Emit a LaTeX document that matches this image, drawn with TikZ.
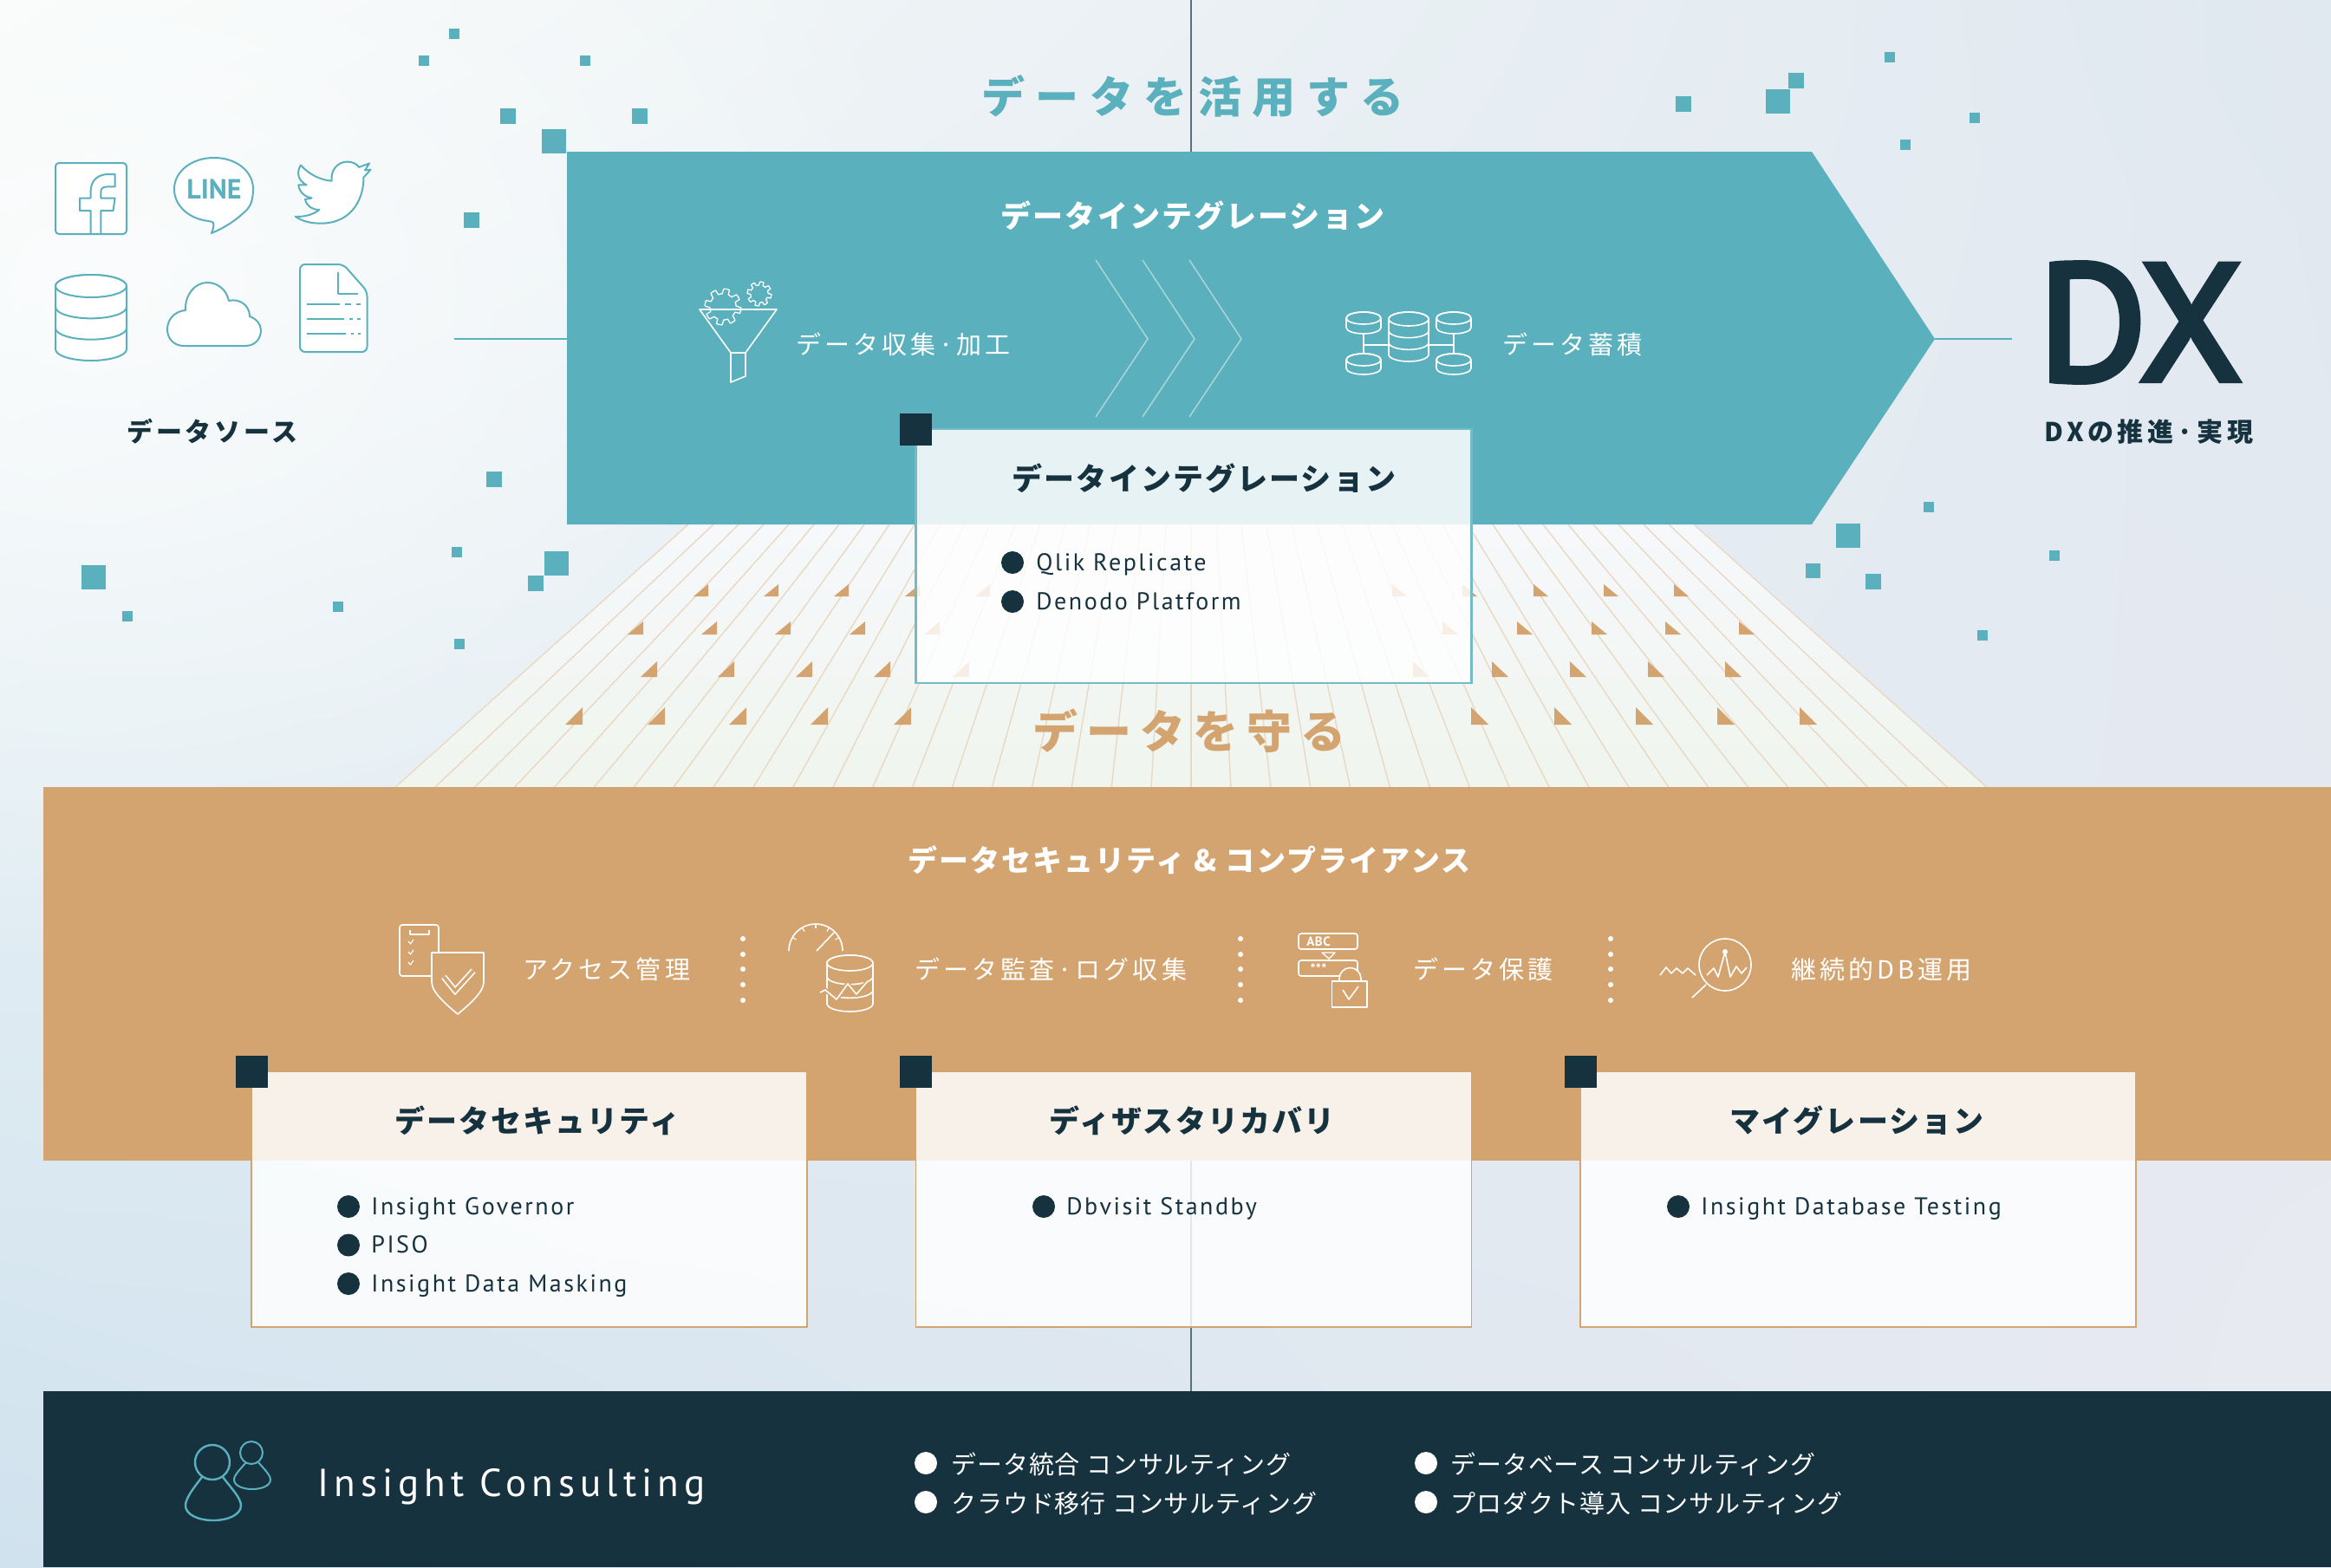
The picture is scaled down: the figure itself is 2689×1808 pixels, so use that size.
\documentclass[tikz,border=0pt]{standalone}
\usepackage{fontspec}
\usetikzlibrary{positioning,shadings,fadings}
\setmainfont{Noto Sans CJK JP}
\newfontfamily\latinfont{PT Sans}
\newcommand{\jpset}[2]{\fontsize{#1}{#1}\selectfont\addfontfeatures{LetterSpace=#2}}
\newcommand{\latset}[2]{\latinfont\fontsize{#1}{#1}\selectfont\addfontfeatures{LetterSpace=#2}}
\definecolor{tealmain}{HTML}{5AB0BC}
\definecolor{tanmain}{HTML}{D3A470}
\definecolor{navy}{HTML}{16323F}
\definecolor{tanpale}{HTML}{E9D8C3}
\definecolor{headtan}{HTML}{F8F1EA}
\definecolor{headteal}{HTML}{E7F2F5}
\definecolor{bgul}{HTML}{F6FAF9}
\definecolor{bgur}{HTML}{E0E8F0}
\definecolor{bgll}{HTML}{D0E2EE}
\definecolor{bglr}{HTML}{E9EAF1}
\definecolor{planetop}{HTML}{F6F8FB}
\definecolor{planebot}{HTML}{F0F5EE}
\tikzfading[name=glowfade,inner color=transparent!30,outer color=transparent!100]
\tikzset{
  srcline/.style={draw=tealmain,line width=2pt,fill=white,line join=round},
  whiteline/.style={draw=white,line width=1.6pt,line join=round},
  tanicon/.style={draw=white,line width=1.6pt,fill=tanmain,line join=round},
  teallink/.style={draw=tealmain,line width=2pt},
  peopleline/.style={draw=tealmain,line width=2.4pt},
  pixel/.style={fill=tealmain},
  titletext/.style={inner sep=0pt,font=\jpset{50}{25}\bfseries},
  headtext/.style={inner sep=0pt,text=white,font=\jpset{35}{6}\bfseries},
  cardtitle/.style={inner sep=0pt,text=navy,font=\jpset{35}{6}\bfseries},
  darktext/.style={inner sep=0pt,text=navy,font=\jpset{30}{12}\bfseries},
  icontext/.style={inner sep=0pt,anchor=west,text=white,yshift=-1.5pt,font=\jpset{29}{14}},
  itemtext/.style={inner sep=0pt,anchor=west,text=navy,text height=20pt,text depth=6pt,yshift=-2pt,font=\latset{28}{9}},
  consulttext/.style={inner sep=0pt,anchor=west,text=white,yshift=-1pt,font=\jpset{29}{3}},
  bulletdot/.style={circle,fill=navy,minimum size=26pt,inner sep=0pt},
  whitedot/.style={circle,fill=white,minimum size=26pt,inner sep=0pt},
  cardhead/.style={inner sep=0pt,outer sep=0pt,minimum width=641pt,minimum height=103pt,fill=headtan},
  cardbody/.style={inner sep=0pt,outer sep=0pt,minimum width=641pt,minimum height=192pt,fill=white,fill opacity=.83},
  cornermark/.style={inner sep=0pt,minimum size=37pt,fill=navy},
}
\newcommand{\cylicon}[7]{% style, centre x, top, half width, arc height, bottom, bands
  \draw[#1] ({#2-#4},{#3+#5}) -- ({#2-#4},{#6-#5})
    arc[start angle=180,end angle=360,x radius=#4pt,y radius=#5pt]
    -- ({#2+#4},{#3+#5}) arc[start angle=0,end angle=180,x radius=#4pt,y radius=#5pt] -- cycle;
  \draw[#1] (#2,{#3+#5}) ellipse[x radius=#4pt,y radius=#5pt];
  \ifnum#7>0
  \foreach \k in {1,...,#7}
    \draw[#1,fill=none] ({#2-#4},{#3+#5+\k*(#6-#3-2*#5)/(#7+1)})
      arc[start angle=180,end angle=360,x radius=#4pt,y radius=#5pt];
  \fi
}
\newcommand{\gearicon}[4]{% centre x, centre y, radius, teeth
  \draw[whiteline,line width=1.3pt] plot[samples=121,domain=0:360]
    ({#1+#3*(1+.16*sign(sin(#4*\x)))*cos(\x)},{#2+#3*(1+.16*sign(sin(#4*\x)))*sin(\x)}) -- cycle;
}
\begin{document}
\begin{tikzpicture}[x=1pt,y=-1pt]
\useasboundingbox (0,0) rectangle (2689,1808);
\shade[shading=bilinear interpolation,upper left=bgul,upper right=bgur,lower left=bgll,lower right=bglr]
  (0,0) rectangle (2689,1808);
\fill[white,path fading=glowfade] (120,330) ellipse[x radius=1000pt,y radius=800pt];

% scattered pixels
\foreach \px/\py/\ps in {518/33/12,483/64/12,669/64/12,577/125/18,729/125/18,625/149/28,535/245/18,
  561/544/18,94/652/28,141/705/12,384/694/12,521/631/12,524/737/12,628/636/28,609/664/18,
  1933/111/18,2037/103/28,2063/84/18,2174/60/12,2192/161/12,2272/130/12,
  2219/579/12,2118/604/28,2083/650/17,2152/662/18,2364/635/12,2281/727/12}
  \fill[pixel] (\px,\py) rectangle ++(\ps,\ps);

% centre axis
\coordinate (axistop) at (1374,0);
\coordinate (axisbot) at (1374,1605);
\draw[draw=navy!70,line width=1.4pt] (axistop) -- (axisbot);

% plane behind the cards
\shade[top color=planetop,bottom color=planebot]
  (794,605) -- (1955,605) -- (2290,908) -- (454,908) -- cycle;
\foreach \i in {-20,...,20}
  \draw[draw=tanpale,line width=1.4pt] ({1374+\i*29},605) -- ({1374+\i*45.9},908);
\foreach \ry/\rh/\rw/\xs in {688/14/17/{1606,1687,1769,1850,1931},
                             732/15/18/{1664,1750,1836,1921,2006},
                             781/18/19/{1630,1721,1811,1901,1990},
                             836/20/20/{1697,1793,1887,1981,2076}}
  \foreach \tx in \xs {
    \fill[tanmain] (\tx,\ry) -- ++(0,-\rh) -- ({\tx+\rw},\ry) -- cycle;
    \fill[tanmain] ({2748-\tx},\ry) -- ++(0,-\rh) -- ({2748-\tx-\rw},\ry) -- cycle;
  }

% integration arrow
\coordinate (arrowtail) at (654,391);
\coordinate (arrowtip) at (2232,391);
\coordinate (srcend) at (524,391);
\coordinate (dxend) at (2321,391);
\fill[tealmain] (654,175) -- (2090,175) -- (arrowtip) -- (2090,605) -- (654,605) -- cycle;
\draw[teallink] (srcend) -- (arrowtail);
\draw[teallink] (arrowtip) -- (dxend);
\foreach \cx in {1264,1318,1372}
  \draw[draw=white,draw opacity=.45,line width=1.6pt] (\cx,300) -- ({\cx+60},391) -- (\cx,481);

\node[titletext,text=tealmain] (usetitle) at (1376,111) {データを活用する};
\node[headtext] (arrowtitle) at (1376,249) {データインテグレーション};

% funnel and gears
\gearicon{834}{354}{18}{8}
\gearicon{876}{339}{12}{8}
\draw[whiteline] (807,357) -- (896,357) -- (860,407) -- (860,434) -- (843,441) -- (843,407) -- cycle;
\draw[whiteline] (843,407) -- (860,407);
\node[icontext] (collecttext) at (918,396) {データ収集·加工};

% storage cluster
\draw[whiteline] (1573,385) -- (1573,408) (1677,385) -- (1677,408) (1573,398) -- (1602,398) (1648,398) -- (1677,398);
\cylicon{whiteline}{1573}{360}{20}{7}{385}{0}
\cylicon{whiteline}{1677}{360}{20}{7}{385}{0}
\cylicon{whiteline}{1573}{408}{20}{7}{432}{0}
\cylicon{whiteline}{1677}{408}{20}{7}{432}{0}
\cylicon{whiteline}{1625}{360}{23}{8}{417}{2}
\node[icontext] (storetext) at (1733,396) {データ蓄積};

% data source icons
\draw[srcline,rounded corners=4pt] (64,188) rectangle (146,270);
\draw[srcline,fill=none] (104.6,270) -- (104.6,243) -- (92,243) -- (92,228.5) -- (104.6,228.5) -- (104.6,221)
  .. controls (104.6,208) and (113,201) .. (125,201) -- (132.6,201) -- (132.6,215.4) -- (124,215.4)
  .. controls (118,215.4) and (116.3,218) .. (116.3,222) -- (116.3,228.5) -- (132.6,228.5) -- (130.6,243) -- (116.3,243) -- (116.3,270);
\draw[srcline] (240,255) .. controls (217,252) and (201,237) .. (201,218) .. controls (201,198) and (221,182) .. (247,182)
  .. controls (273,182) and (292,198) .. (292,218) .. controls (292,228) and (290,236) .. (285.7,241)
  .. controls (272,255) and (258,263) .. (244,269) .. controls (246,264) and (247,260) .. (246,257)
  .. controls (245,256) and (243,255) .. (240,255) -- cycle;
\node[inner sep=0pt,text=tealmain,font=\latset{32}{0}\bfseries] (linelogo) at (247,218) {LINE};
\draw[srcline] (347,190.5) .. controls (356,201) and (370,208) .. (382.7,208.7) .. controls (381,196) and (390,186.6) .. (400.5,186.6)
  .. controls (407,186.6) and (411,189) .. (414.3,192.9) -- (426,188.5) -- (421,196.4) -- (427.6,195.7) -- (419.4,204.7)
  .. controls (420,226) and (408,257.7) .. (370,257.7) .. controls (358,257.7) and (348,255) .. (340.8,249.8)
  .. controls (350,250.5) and (361,248) .. (368.4,241.9) .. controls (360,242) and (354,238) .. (352,230) -- (359.7,228.5)
  .. controls (351,227) and (345,221) .. (344.4,213.4) -- (353.6,213.4) .. controls (343,208) and (342,198) .. (347,190.5) -- cycle;
\cylicon{srcline}{105}{317}{41}{13}{416}{2}
\draw[srcline] (212,399) -- (283,399) .. controls (295,399) and (301,390) .. (301,381) .. controls (301,374) and (296,368) .. (288,365)
  .. controls (288,352) and (276,344) .. (264,347) .. controls (261,333) and (250,326) .. (239,326)
  .. controls (225,326) and (213,340) .. (214,358) .. controls (201,359) and (193,369) .. (193,380)
  .. controls (193,391) and (201,399) .. (212,399) -- cycle;
\draw[srcline,rounded corners=6pt] (346,305) -- (396,305) -- (423.5,336) -- (423.5,406) -- (346,406) -- cycle;
\draw[srcline,fill=none,line width=1.6pt] (390,314) -- (390,339) -- (413,339);
\draw[srcline,fill=none] (354,350.6) -- (392,350.6) (398,350.6) -- (405,350.6) (411,350.6) -- (416,350.6)
  (354,367.6) -- (397,367.6) (403,367.6) -- (407,367.6) (412,367.6) -- (416,367.6)
  (354,384.6) -- (399,384.6) (405,384.6) -- (408,384.6) (413,384.6) -- (416,384.6);
\node[darktext] (sourcetext) at (245,498) {データソース};

% DX label
\node[inner sep=0pt,text=navy,font=\latset{190}{1}\addfontfeatures{FakeBold=4}] (dxtext) at (2469,372) {DX};
\node[darktext,font=\jpset{30}{15}\bfseries] (dxcaption) at (2479,498) {DXの推進·実現};

% integration card
\node[cardhead,fill=headteal,fill opacity=1] (inthead) at (1377,550) [minimum height=110pt] {};
\node[cardbody,below=0pt of inthead,minimum height=183pt] (intbody) {};
\draw[draw=tealmain!85!white,line width=2.2pt] (inthead.north west) -- (inthead.north east) -- (intbody.south east) -- (intbody.south west) -- cycle;
\node[cornermark] (intcorner) at (inthead.north west) {};
\node[cardtitle] (inttitle) at (1389,552) {データインテグレーション};
\node[bulletdot] (qlikdot) at (1168,649) {};
\node[itemtext,right=14pt of qlikdot] (qlik) {Qlik Replicate};
\node[bulletdot] (denodot) at (1168,694) {};
\node[itemtext,right=14pt of denodot] (denodo) {Denodo Platform};

\node[titletext,text=tanmain,font=\jpset{52}{19}\bfseries] (protecttitle) at (1372,843) {データを守る};

% security band
\fill[tanmain] (50,908) rectangle (2689,1339);
\node[headtext,font=\jpset{34}{6}\bfseries] (bandtitle) at (1372,992) {データセキュリティ \& コンプライアンス};

% access icon
\draw[whiteline,rounded corners=3pt] (461,1067) rectangle (506,1126);
\draw[whiteline,line width=1.2pt] (473,1073) -- (473,1078) -- (495,1078) -- (495,1073);
\foreach \cy in {1087,1099,1111}
  \draw[whiteline,line width=1.2pt] (471,{\cy-1}) -- (473.5,{\cy+2}) -- (477,{\cy-3});
\draw[tanicon] (498,1099) -- (558,1099) -- (558,1133) .. controls (558,1145) and (540,1160) .. (528,1170)
  .. controls (516,1160) and (498,1145) .. (498,1133) -- cycle;
\draw[draw=white,line width=7pt] (512,1127) -- (525,1143) -- (546,1120);
\draw[draw=tanmain,line width=3.6pt] (512,1127) -- (525,1143) -- (546,1120);
\node[icontext] (accesstext) at (603,1117) {アクセス管理};

% audit icon
\draw[whiteline] (910,1097) arc[start angle=180,end angle=0,radius=31pt];
\draw[whiteline] (962,1076) -- (942,1097);
\foreach \ga in {150,120,90,60,30}
  \draw[whiteline,line width=1.2pt] ({941+31*cos(\ga)},{1097-31*sin(\ga)}) -- ({941+26*cos(\ga)},{1097-26*sin(\ga)});
\cylicon{tanicon}{980.5}{1102}{26.5}{9}{1167}{2}
\draw[draw=tanmain,line width=5pt] (946,1145) -- (952,1142) -- (965,1153) -- (978,1135) -- (988,1147) -- (1001,1132);
\draw[whiteline] (946,1145) -- (952,1142) -- (965,1153) -- (978,1135) -- (988,1147) -- (1001,1132);
\node[icontext] (audittext) at (1055,1117) {データ監査·ログ収集};

% protect icon
\draw[whiteline,rounded corners=3pt] (1498,1077) rectangle (1566,1095);
\node[inner sep=0pt,text=white,font=\latset{15}{4}\bfseries] (abctext) at (1521,1086) {ABC};
\draw[whiteline,line width=1.4pt] (1525,1099) -- (1540,1099) -- (1533,1106) -- cycle;
\draw[whiteline,rounded corners=3pt] (1498,1108) rectangle (1566,1126);
\node[inner sep=0pt,text=white,font=\latset{16}{2}\bfseries] (startext) at (1521,1118) {***};
\draw[tanicon] (1545,1134) -- (1545,1129) arc[start angle=180,end angle=0,radius=12.5pt] -- (1570,1134);
\draw[tanicon] (1536.5,1132) rectangle (1577,1162);
\draw[whiteline] (1549,1142) -- (1556,1153) -- (1567,1138);
\node[icontext] (guardtext) at (1630,1117) {データ保護};

% operation icon
\draw[whiteline] (1915,1125) -- (1922,1116) -- (1928,1123) -- (1934,1117) -- (1941,1123) -- (1947,1117) -- (1956,1125);
\draw[whiteline] (1990,1113) circle[radius=30pt];
\draw[whiteline] (1968,1136) -- (1952,1151);
\draw[whiteline] (1969,1125) -- (1977,1117) -- (1982,1127) -- (1990,1098) -- (1996,1127) -- (2003,1115) -- (2009,1123) -- (2015,1116);
\fill[white] (1990,1098) circle[radius=3pt];
\node[icontext] (runtext) at (2066,1117) {継続的DB運用};

% dotted separators
\foreach \dx in {857,1431,1858}
  \foreach \dy in {1083,1101,1118,1136,1154}
    \fill[white] (\dx,\dy) circle[radius=3pt];

% security card
\node[cardhead] (sechead) at (610.5,1287.5) {};
\node[cardbody,below=0pt of sechead] (secbody) {};
\draw[draw=tanmain,line width=1.8pt] (sechead.north west) -- (sechead.north east) -- (secbody.south east) -- (secbody.south west) -- cycle;
\node[cornermark] (seccorner) at (sechead.north west) {};
\node[cardtitle] (sectitle) at (620,1293) {データセキュリティ};
\node[bulletdot] (govdot) at (402,1392) {};
\node[itemtext,right=13pt of govdot] (gov) {Insight Governor};
\node[bulletdot] (pisodot) at (402,1436.5) {};
\node[itemtext,right=13pt of pisodot] (piso) {PISO};
\node[bulletdot] (maskdot) at (402,1481) {};
\node[itemtext,right=13pt of maskdot] (mask) {Insight Data Masking};

% recovery card
\node[cardhead] (drhead) at (1377,1287.5) {};
\node[cardbody,below=0pt of drhead] (drbody) {};
\draw[draw=tanmain,line width=1.8pt] (drhead.north west) -- (drhead.north east) -- (drbody.south east) -- (drbody.south west) -- cycle;
\node[cornermark] (drcorner) at (drhead.north west) {};
\node[cardtitle] (drtitle) at (1375,1293) {ディザスタリカバリ};
\node[bulletdot] (standbydot) at (1204,1392) {};
\node[itemtext,right=13pt of standbydot] (standby) {Dbvisit Standby};

% migration card
\node[cardhead] (mighead) at (2143.5,1287.5) {};
\node[cardbody,below=0pt of mighead] (migbody) {};
\draw[draw=tanmain,line width=1.8pt] (mighead.north west) -- (mighead.north east) -- (migbody.south east) -- (migbody.south west) -- cycle;
\node[cornermark] (migcorner) at (mighead.north west) {};
\node[cardtitle] (migtitle) at (2142,1293) {マイグレーション};
\node[bulletdot] (testdot) at (1936,1392) {};
\node[itemtext,right=13pt of testdot] (testing) {Insight Database Testing};

% consulting band
\fill[navy] (50,1605) rectangle (2689,1808);
\draw[peopleline] (245,1687) ellipse[x radius=20pt,y radius=20pt];
\draw[peopleline] (233,1704) .. controls (224,1716) and (214,1728) .. (214,1737) .. controls (214,1747) and (228,1754) .. (246,1754)
  .. controls (264,1754) and (278,1747) .. (278,1737) .. controls (278,1728) and (266,1716) .. (257,1704);
\draw[peopleline,line width=2pt] (290,1676) ellipse[x radius=13pt,y radius=13pt];
\draw[peopleline,line width=2pt] (284,1687) .. controls (277,1695) and (270,1702) .. (270,1707) .. controls (270,1714) and (280,1718) .. (291,1718)
  .. controls (302,1718) and (312,1714) .. (312,1707) .. controls (312,1702) and (305,1695) .. (298,1687);
\node[inner sep=0pt,anchor=west,text=white,font=\latset{45}{13.5}] (consulttitle) at (366,1715) {Insight Consulting};
\node[whitedot] (mergedot) at (1068,1688) {};
\node[consulttext,right=16pt of mergedot] (merge) {データ統合 コンサルティング};
\node[whitedot] (clouddot) at (1068,1733) {};
\node[consulttext,right=16pt of clouddot] (cloudmove) {クラウド移行 コンサルティング};
\node[whitedot] (dbdot) at (1645,1688) {};
\node[consulttext,right=15pt of dbdot] (dbwork) {データベース コンサルティング};
\node[whitedot] (productdot) at (1645,1733) {};
\node[consulttext,right=15pt of productdot] (product) {プロダクト導入 コンサルティング};
\end{tikzpicture}
\end{document}
